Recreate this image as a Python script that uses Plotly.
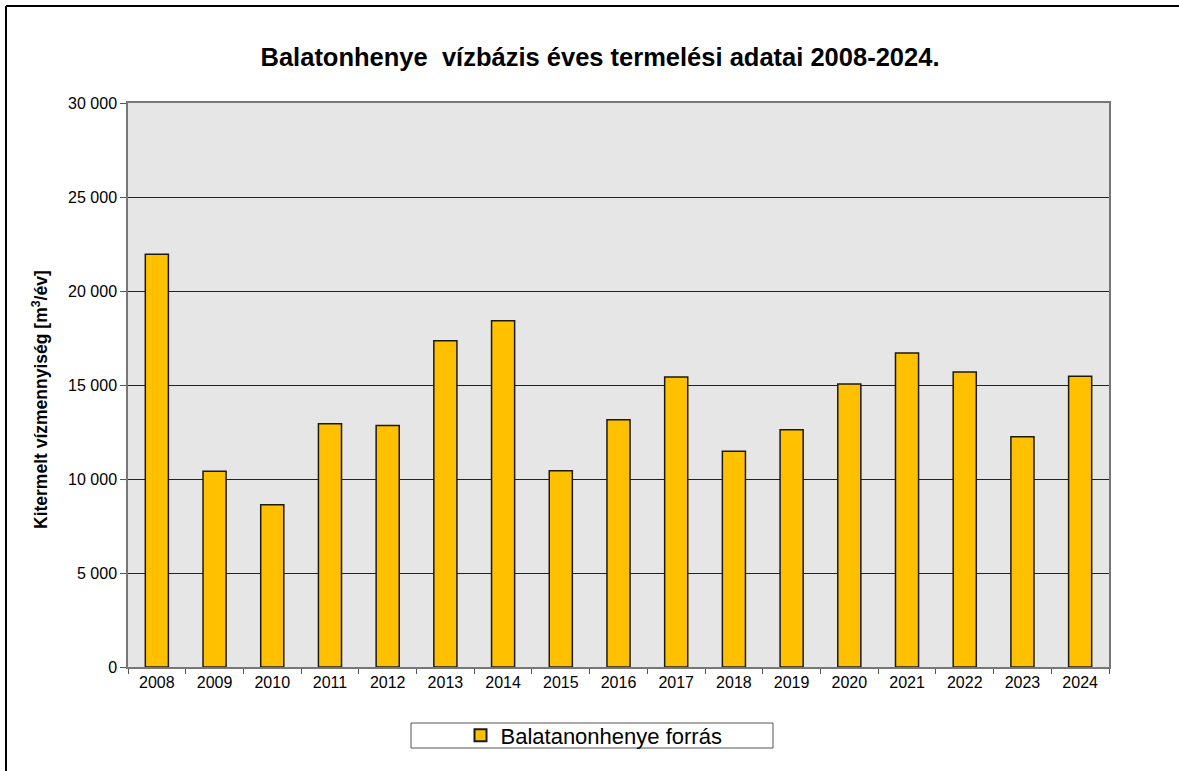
import plotly.graph_objects as go

years = ["2008", "2009", "2010", "2011", "2012", "2013", "2014", "2015", "2016",
         "2017", "2018", "2019", "2020", "2021", "2022", "2023", "2024"]
values = [21950, 10410, 8630, 12940, 12840, 17360, 18420, 10440, 13150,
          15430, 11470, 12620, 15050, 16700, 15690, 12250, 15460]
series_name = "Balatanonhenye forrás"
title_text = "Balatonhenye  vízbázis éves termelési adatai 2008-2024."
y_title = "Kitermelt vízmennyiség [m<sup>3</sup>/év]"
y_ticks = [0, 5000, 10000, 15000, 20000, 25000, 30000]

W, H = 1179, 771
L, R, T, B = 128, 1109, 103, 667

def px_x(p):
    return (p - L) / (R - L)

def px_y(p):
    return (B - p) / (B - T)

fig = go.Figure()
fig.add_trace(go.Bar(
    x=years, y=values, name=series_name,
    marker=dict(color="#FFC000", line=dict(color="#1a1a1a", width=1.5)),
    showlegend=True,
))

fig.update_layout(
    width=W, height=H,
    margin=dict(l=L, r=W - R, t=T, b=H - B),
    paper_bgcolor="white", plot_bgcolor="#E6E6E6",
    font=dict(family="Liberation Sans, Arial, sans-serif", color="black"),
    separators=". ",
    bargap=0.6,
    title=dict(text="<b>" + title_text + "</b>", x=600 / W, xref="container",
               xanchor="center", y=1 - 57 / H, yref="container", yanchor="middle",
               font=dict(size=25.5)),
    showlegend=True,
    legend=dict(orientation="h", xref="container", yref="container",
                x=594 / W, xanchor="center", y=1 - 735.5 / H, yanchor="middle",
                bgcolor="rgba(0,0,0,0)", font=dict(size=22),
                itemsizing="constant"),
)

fig.update_xaxes(
    type="category", tickson="boundaries", ticks="outside", ticklen=5,
    tickcolor="#555", showline=True, linecolor="#777", linewidth=1.5, mirror=True,
    tickfont=dict(size=16), showgrid=False,
)
fig.update_yaxes(
    range=[0, 30000], tickvals=y_ticks, tickformat=",d", ticks="outside", ticklen=6,
    tickcolor="#555", showline=True, linecolor="#777", linewidth=1.5, mirror=True,
    gridcolor="#222222", gridwidth=1, tickfont=dict(size=16), zeroline=False,
)

# y-axis title as annotation
fig.add_annotation(text="<b>" + y_title + "</b>", xref="paper", yref="paper",
                   x=px_x(40), y=px_y(400), textangle=-90, showarrow=False,
                   font=dict(size=17.5), xanchor="center", yanchor="middle")

# legend box
fig.add_shape(type="rect", xref="paper", yref="paper",
              x0=px_x(411), x1=px_x(773), y0=px_y(748), y1=px_y(723),
              line=dict(color="#555", width=1), fillcolor="white", layer="below")

# outer chart frame (left & top edges visible)
fig.add_shape(type="line", xref="paper", yref="paper",
              x0=px_x(6), x1=px_x(6), y0=px_y(780), y1=px_y(6),
              line=dict(color="black", width=2))
fig.add_shape(type="line", xref="paper", yref="paper",
              x0=px_x(6), x1=px_x(1190), y0=px_y(6), y1=px_y(6),
              line=dict(color="black", width=2))

fig.write_html("out.html", config={"displayModeBar": False},
               post_script="document.body.style.margin='0px';")
